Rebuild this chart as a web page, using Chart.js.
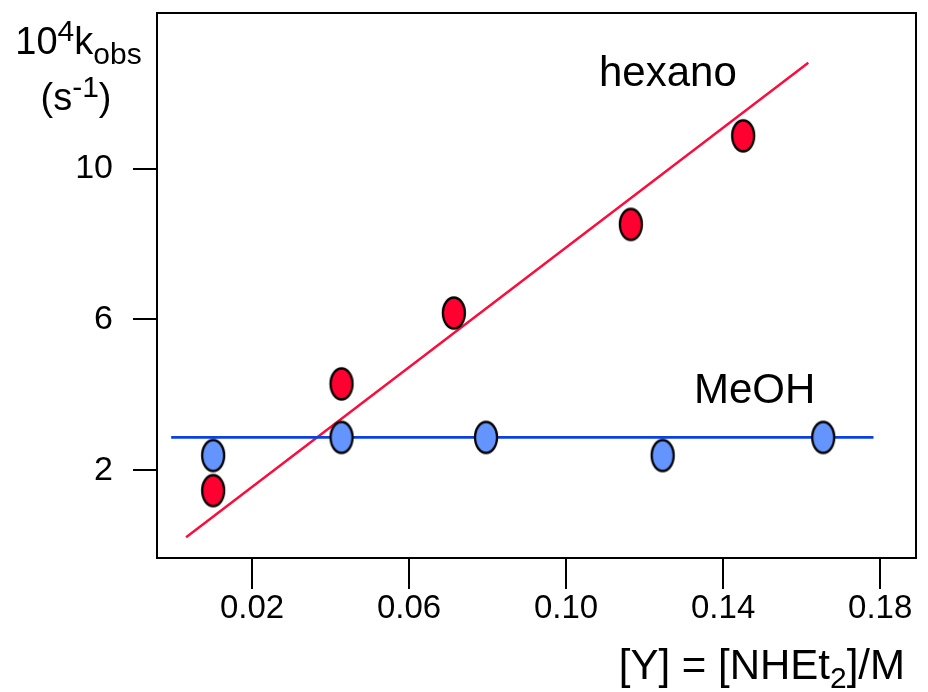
<!DOCTYPE html>
<html>
<head>
<meta charset="utf-8">
<script src="https://cdn.jsdelivr.net/npm/chart.js@4/dist/chart.umd.min.js"></script>
<style>
  html, body { margin: 0; padding: 0; background: #ffffff; }
  #wrap { position: relative; width: 928px; height: 692px; overflow: hidden; background: #ffffff; font-family: "Liberation Sans", Arial, Helvetica, sans-serif; color: #000; }
  #c { position: absolute; left: 0; top: 0; }
  .lbl { position: absolute; line-height: 1; white-space: nowrap; }
  .sup, .sub { position: relative; vertical-align: baseline; }
</style>
</head>
<body>
<div id="wrap">
  <canvas id="c" width="928" height="692"></canvas>
  <div class="lbl" style="left:0; width:157px; text-align:center; top:22px; font-size:38px;">10<span class="sup" style="font-size:30px; top:-13px;">4</span>k<span class="sub" style="font-size:30px; top:10px;">obs</span></div>
  <div class="lbl" style="left:0; width:152px; text-align:center; top:78px; font-size:38px;">(s<span class="sup" style="font-size:30px; top:-13px;">-1</span>)</div>
  <div class="lbl" style="left:599px; top:51px; font-size:42px;">hexano</div>
  <div class="lbl" style="left:694px; top:368px; font-size:42px;">MeOH</div>
  <div class="lbl" style="right:23px; top:644px; font-size:42px; text-align:right;">[Y] = [NHEt<span class="sub" style="font-size:30px; top:9px;">2</span>]/M</div>
</div>
<script>
// ---- data ----
const hexanoX = [0.0101, 0.0428, 0.0714, 0.1165, 0.1451];
const hexanoY = [1.46, 4.29, 6.17, 8.52, 10.87];
const meohX   = [0.0101, 0.0428, 0.0796, 0.1246, 0.1655];
const meohY   = [2.39, 2.87, 2.87, 2.39, 2.87];
const hexanoFitX = [0.0032, 0.1617];
const hexanoFitY = [0.221, 12.81];
const meohFitX   = [-0.0006, 0.1783];
const meohFitY   = [2.87, 2.87];
const xTickValues = [0.02, 0.06, 0.10, 0.14, 0.18];
const xTickLabels = ['0.02', '0.06', '0.10', '0.14', '0.18'];
const yTickValues = [2, 6, 10];
const yTickLabels = ['2', '6', '10'];

const pts = (xs, ys) => xs.map((x, i) => ({ x: x, y: ys[i] }));

function ellipseMarker(fill) {
  const cv = document.createElement('canvas');
  cv.width = 28; cv.height = 36;
  const g = cv.getContext('2d');
  g.beginPath();
  g.ellipse(14, 18, 11, 15.5, 0, 0, Math.PI * 2);
  g.fillStyle = fill;
  g.fill();
  g.lineWidth = 2.3;
  g.strokeStyle = '#000000';
  g.stroke();
  return cv;
}
const redMarker = ellipseMarker('#ff0030');
const blueMarker = ellipseMarker('#6495ff');

const boxPlugin = {
  id: 'box',
  afterDraw(chart) {
    const a = chart.chartArea, ctx = chart.ctx;
    ctx.save();
    ctx.strokeStyle = '#000000';
    ctx.lineWidth = 2;
    ctx.strokeRect(a.left, a.top, a.right - a.left, a.bottom - a.top);
    ctx.restore();
  }
};

const xFont = { family: "'Liberation Sans', Arial, sans-serif", size: 33 };
const yFont = { family: "'Liberation Sans', Arial, sans-serif", size: 34 };

new Chart(document.getElementById('c'), {
  type: 'scatter',
  data: {
    datasets: [
      { label: 'hexano fit', type: 'line', data: pts(hexanoFitX, hexanoFitY), borderColor: '#ff0a3a', borderWidth: 2.4, pointRadius: 0, fill: false, order: 3 },
      { label: 'MeOH fit', type: 'line', data: pts(meohFitX, meohFitY), borderColor: '#0a40e6', borderWidth: 2.8, pointRadius: 0, fill: false, order: 2 },
      { label: 'MeOH', data: pts(meohX, meohY), pointStyle: blueMarker, pointRadius: 16, order: 1 },
      { label: 'hexano', data: pts(hexanoX, hexanoY), pointStyle: redMarker, pointRadius: 16, order: 0 }
    ]
  },
  options: {
    responsive: false,
    maintainAspectRatio: false,
    devicePixelRatio: 1,
    animation: false,
    layout: { autoPadding: false, padding: { left: 0, top: 13, right: 12, bottom: 0 } },
    plugins: { legend: { display: false }, tooltip: { enabled: false } },
    scales: {
      x: {
        type: 'linear',
        min: -0.00421,
        max: 0.18913,
        border: { display: false },
        grid: { drawOnChartArea: false, drawTicks: true, tickLength: 31, color: '#000000', lineWidth: 2 },
        ticks: { font: xFont, color: '#000000', padding: 0, maxRotation: 0, autoSkip: false,
          callback: (v, i) => xTickLabels[i] },
        afterBuildTicks: (s) => { s.ticks = xTickValues.map(v => ({ value: v })); },
        afterFit: (s) => { s.height = 134; s.paddingLeft = 0; s.paddingRight = 0; s.paddingTop = 0; s.paddingBottom = 0; }
      },
      y: {
        type: 'linear',
        min: -0.328,
        max: 14.128,
        border: { display: false },
        grid: { drawOnChartArea: false, drawTicks: true, tickLength: 24, color: '#000000', lineWidth: 2 },
        ticks: { font: yFont, color: '#000000', padding: 20, autoSkip: false,
          callback: (v, i) => yTickLabels[i] },
        afterBuildTicks: (s) => { s.ticks = yTickValues.map(v => ({ value: v })); },
        afterFit: (s) => { s.width = 157; s.paddingLeft = 0; s.paddingRight = 0; s.paddingTop = 0; s.paddingBottom = 0; }
      }
    }
  },
  plugins: [boxPlugin]
});
</script>
</body>
</html>
